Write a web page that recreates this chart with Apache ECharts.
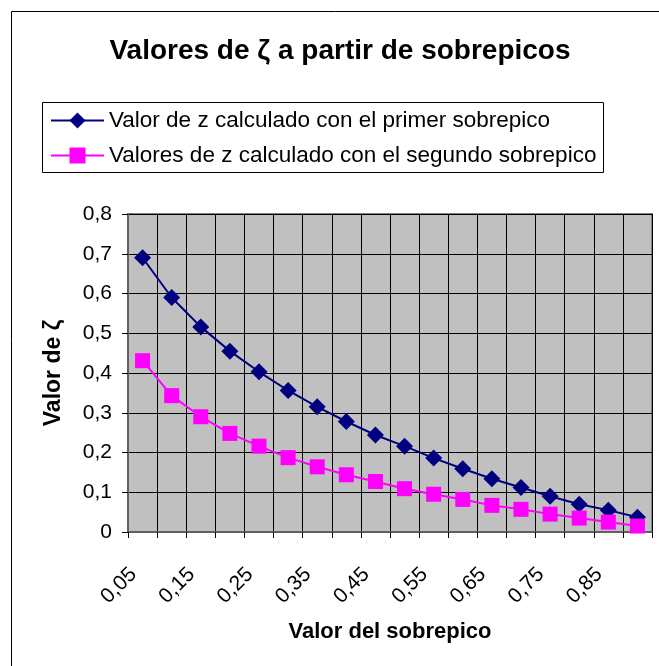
<!DOCTYPE html>
<html>
<head>
<meta charset="utf-8">
<script src="https://cdn.jsdelivr.net/npm/echarts@6/dist/echarts.min.js"></script>
<style>
html,body{margin:0;padding:0;background:#fff;}
#chart{width:659px;height:666px;}
</style>
</head>
<body>
<div id="chart"></div>
<script>
const categories = ['0,05','0,1','0,15','0,2','0,25','0,3','0,35','0,4','0,45','0,5','0,55','0,6','0,65','0,7','0,75','0,8','0,85','0,9'];
const primerSobrepico = [0.690, 0.590, 0.516, 0.455, 0.403, 0.356, 0.315, 0.278, 0.244, 0.216, 0.186, 0.159, 0.134, 0.112, 0.090, 0.070, 0.055, 0.037];
const segundoSobrepico = [0.431, 0.343, 0.290, 0.248, 0.216, 0.187, 0.164, 0.144, 0.127, 0.109, 0.095, 0.082, 0.067, 0.057, 0.045, 0.035, 0.025, 0.015];
const seriesNames = ['Valor de z calculado con el primer sobrepico', 'Valores de z calculado con el segundo sobrepico'];
const titleText = 'Valores de ζ a partir de sobrepicos';
const yName = 'Valor de ζ';
const xName = 'Valor del sobrepico';

const FONT = 'Liberation Sans, Arial, sans-serif';
const chart = echarts.init(document.getElementById('chart'), null, {renderer: 'canvas'});
chart.setOption({
  backgroundColor: '#ffffff',
  animation: false,
  graphic: [
    {type: 'rect', shape: {x: 11.5, y: 11.5, width: 700, height: 700}, style: {fill: 'none', stroke: '#000', lineWidth: 1}, z: -10},
    {type: 'rect', shape: {x: 42.5, y: 102.5, width: 561, height: 70}, style: {fill: '#fff', stroke: '#000', lineWidth: 1}, z: -5}
  ],
  title: {
    text: titleText,
    left: 340,
    textAlign: 'center',
    top: 37,
    padding: 0,
    textStyle: {fontFamily: FONT, fontSize: 28, fontWeight: 'bold', color: '#000'}
  },
  legend: {
    orient: 'vertical',
    left: 50,
    top: 109,
    padding: 0,
    itemWidth: 53,
    itemHeight: 20,
    itemGap: 12,
    textStyle: {fontFamily: FONT, fontSize: 22.5, color: '#000'},
    data: seriesNames
  },
  grid: {
    left: 128, right: 7, top: 214, bottom: 134,
    show: true,
    backgroundColor: '#c0c0c0',
    borderColor: '#808080',
    borderWidth: 2,
    containLabel: false
  },
  xAxis: {
    type: 'category',
    data: categories,
    boundaryGap: true,
    name: xName,
    nameLocation: 'middle',
    nameGap: 89,
    nameTextStyle: {fontFamily: FONT, fontSize: 22, fontWeight: 'bold', color: '#000'},
    axisLine: {lineStyle: {color: '#606060', width: 2}},
    axisTick: {show: true, interval: 0, length: 6, lineStyle: {color: '#000', width: 1}},
    axisLabel: {
      interval: 1,
      rotate: 45,
      margin: 30,
      padding: [0, 13, 0, 0],
      fontFamily: FONT, fontSize: 21, color: '#000'
    },
    splitLine: {show: true, interval: 0, lineStyle: {color: '#000', width: 1}}
  },
  yAxis: {
    type: 'value',
    min: 0, max: 0.8, interval: 0.1,
    name: yName,
    nameLocation: 'middle',
    nameGap: 63,
    nameRotate: 90,
    nameTextStyle: {fontFamily: FONT, fontSize: 23, fontWeight: 'bold', color: '#000'},
    axisLine: {show: true, lineStyle: {color: '#606060', width: 2}},
    axisTick: {show: true, length: 6, lineStyle: {color: '#000', width: 1}},
    axisLabel: {
      margin: 16,
      fontFamily: FONT, fontSize: 21, color: '#000',
      formatter: function (v) { return v === 0 ? '0' : v.toFixed(1).replace('.', ','); }
    },
    splitLine: {show: true, lineStyle: {color: '#000', width: 1}}
  },
  series: [
    {
      name: seriesNames[0],
      type: 'line',
      data: primerSobrepico,
      symbol: 'diamond',
      symbolSize: 17,
      itemStyle: {color: '#000080'},
      lineStyle: {color: '#000080', width: 2}
    },
    {
      name: seriesNames[1],
      type: 'line',
      data: segundoSobrepico,
      symbol: 'rect',
      symbolSize: 15,
      itemStyle: {color: '#ff00ff'},
      lineStyle: {color: '#ff00ff', width: 2}
    }
  ]
});
</script>
</body>
</html>
